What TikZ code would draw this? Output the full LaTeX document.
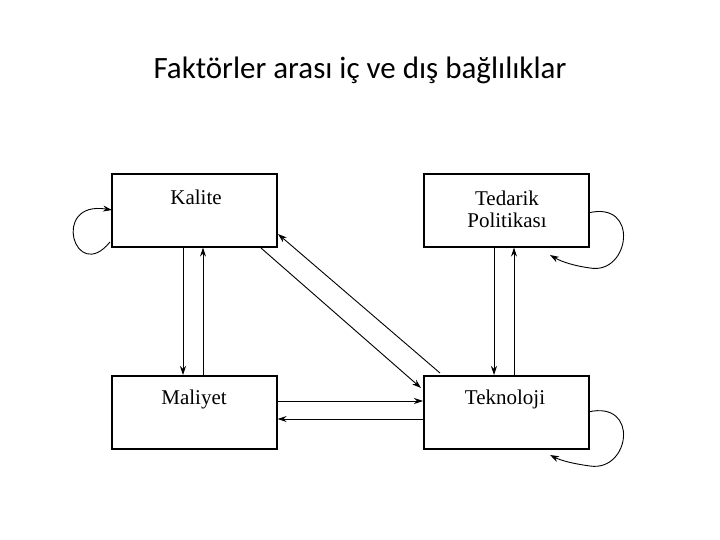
\documentclass[tikz,border=0pt]{standalone}
\usepackage{fontspec}
\setmainfont{Liberation Serif}
\newfontfamily\titlefont{Carlito}
\usetikzlibrary{arrows.meta}
\begin{document}
\begin{tikzpicture}[x=1pt,y=-1pt,
  box/.style={draw,line width=1.6pt,minimum width=165pt,minimum height=73pt,anchor=north west,inner sep=0pt},
  lbl/.style={font=\fontsize{21}{22}\selectfont,align=center},
  arr/.style={-{Stealth[length=9pt,width=6pt]},line width=0.9pt}]
\useasboundingbox (0,0) rectangle (720,540);
\node[font=\titlefont\fontsize{31}{34}\selectfont] (title) at (360,70) {Faktörler arası iç ve dış bağlılıklar};
\node[box] (k) at (111,173) {};
\node[lbl] (kl) at (196,197) {Kalite};
\node[box] (t) at (423,173) {};
\node[lbl] (tl) at (507,209) {Tedarik\\Politikası};
\node[box] (m) at (111,375) {};
\node[lbl] (ml) at (194,399) {Maliyet};
\node[box] (x) at (423,375) {};
\node[lbl] (xl) at (505,399) {Teknoloji};
% verticals
\draw[arr] (k.south west -| 183,0) -- (m.north west -| 183,0);
\draw[arr] (m.north west -| 203,0) -- (k.south west -| 203,0);
\draw[arr] (t.south west -| 494,0) -- (x.north west -| 494,0);
\draw[arr] (x.north west -| 514,0) -- (t.south west -| 514,0);
% horizontals
\draw[arr] (m.east |- 0,401) -- (x.west |- 0,401);
\draw[arr] (x.west |- 0,419) -- (m.east |- 0,419);
% diagonals
\coordinate (d1) at (261,248);
\coordinate (d2) at (421,388);
\coordinate (d3) at (440,373);
\coordinate (d4) at (278,234);
\draw[arr] (d1) -- (d2);
\draw[arr] (d3) -- (d4);
% self loops
\draw[arr] (110,242) .. controls (75,285) and (50,200) .. (112,210);
\draw[arr] (588,213) .. controls (640,200) and (630,275) .. (590,268) .. controls (575,266) and (562,262) .. (550,255);
\draw[arr] (588,412) .. controls (640,400) and (630,472) .. (590,466) .. controls (575,464) and (562,461) .. (550,455);
\end{tikzpicture}
\end{document}
